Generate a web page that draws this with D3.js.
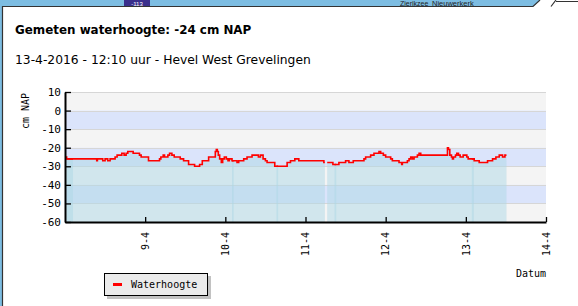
<!DOCTYPE html>
<html>
<head>
<meta charset="utf-8">
<script src="https://cdn.jsdelivr.net/npm/d3@7"></script>
<style>
  body { margin: 0; background: #fff; }
  svg { display: block; }
  .mono { font-family: "DejaVu Sans Mono", monospace; font-size: 10px; }
</style>
</head>
<body>
<div id="chart"></div>
<script>
// meetreeks: uren vanaf 8-4-2016 00:00, waterhoogte in cm NAP (stapjes)
var startDatum = new Date(2016, 3, 8, 0, 0);
var uren = [0, 0.5, 9.5, 9.7, 11.3, 12, 12.8, 13.5, 15, 15.6, 17, 17.7, 18.3, 18.8, 20.4, 22.3, 22.8, 25,
  28.3, 28.7, 29.4, 29.8, 30.8, 31.3, 32, 32.7, 34.5, 35.5, 37, 38.8, 40.3, 41.1, 43,
  45, 45.3, 45.6, 45.9, 46.3, 46.8, 47.2, 47.7, 48.3, 48.8, 49.2, 50, 51.5, 52, 53.5, 54.5, 56,
  57.9, 58.5, 59.3, 60, 60.5, 62.8, 66.5, 67.5, 68.8, 70, 77.5,
  78.5, 80.2, 82, 84, 85, 86.3, 89.5, 90, 91.5, 92.5, 94, 94.5, 95.3, 96, 97.5, 98, 100, 100.8, 101,
  101.7, 102.5, 103, 103.5, 104, 104.5, 105.5, 106, 106.5, 114.5, 114.8, 115.2, 115.7, 116, 116.3,
  116.9, 117.3, 117.8, 118.3, 119.2, 120.3, 120.7, 122.5, 124, 126.5, 128, 129, 130, 131, 131.7];
var waterhoogte = [-25, -26, -27, -26, -27, -26, -27, -26, -25, -24, -23, -24, -23, -22, -23, -24, -25, -27,
  -26, -25, -24, -25, -24, -23, -24, -25, -26, -27, -29, -30, -29, -27, -25,
  -22, -21, -22, -24, -26, -28, -26, -25, -26, -27, -26, -27, -28, -27, -26, -25, -24,
  -25, -24, -26, -27, -28, -30, -28, -27, -26, -27, -28,
  -28, -29, -28, -27, -28, -27, -26, -25, -24, -23, -22, -23, -24, -25, -26, -27, -28, -29, -28,
  -28, -27, -26, -25, -26, -25, -24, -23, -24, -20, -21, -24, -25, -26, -25,
  -24, -23, -24, -25, -24, -25, -26, -27, -28, -27, -26, -25, -24, -25, -24];
var laatsteUur = 132 + 10 / 60; // 13-4 12:10

// aparte blokken van de reeks (overlap geeft de donkere strookjes, gat bij 11-4)
var blokken = [[0, 2.4], [0.5, 50.5], [50, 63.8], [63.3, 77.8], [78.5, 81.2], [80.7, 122.4], [121.8, laatsteUur]];

var dagLabels = ["9-4", "10-4", "11-4", "12-4", "13-4", "14-4"];
var yTicks = [10, 0, -10, -20, -30, -40, -50, -60];

var titel = "Gemeten waterhoogte: -24 cm NAP";
var ondertitel = "13-4-2016 - 12:10 uur - Hevel West Grevelingen";

var width = 578, height = 306;
var plot = { left: 65, right: 546, top: 92, bottom: 222 };

var svg = d3.select('#chart').append('svg')
  .attr('width', width)
  .attr('height', height);

// kaart-rand bovenaan en links
svg.append('rect').attr('width', width).attr('height', height).attr('fill', '#fff');
svg.append('rect').attr('width', width).attr('height', 6.5).attr('fill', '#7dbde2');
svg.append('rect').attr('width', 2.5).attr('height', height).attr('fill', '#7dbde2');
var kaart = svg.append('g');
kaart.append('rect').attr('x', 124).attr('y', 0).attr('width', 26).attr('height', 6).attr('fill', '#3a2f8c');
kaart.append('text').attr('x', 137).attr('y', 5.5).attr('text-anchor', 'middle')
  .attr('fill', '#fff').style('font', '6px "Liberation Sans"').text('-113');
kaart.append('text').attr('x', 400).attr('y', 5.5).attr('fill', '#222')
  .style('font', '7px "Liberation Sans"').text('Zierikzee');
kaart.append('text').attr('x', 432).attr('y', 6).attr('fill', '#222')
  .style('font', '7.5px "Liberation Sans"').text('Nieuwerkerk');
svg.append('path').attr('d', 'M533,7L540,0L578,0L578,7Z').attr('fill', '#fff');
svg.append('path').attr('d', 'M2.5,306V6.5H533L540,0').attr('fill', 'none').attr('stroke', '#333').attr('stroke-width', 1.2);
svg.append('path').attr('d', 'M551,6.5L556,0M556,1.5H578').attr('fill', 'none').attr('stroke', '#333').attr('stroke-width', 1.2);

// titels
svg.append('text').attr('x', 15).attr('y', 34)
  .style('font', 'bold 11.9px "DejaVu Sans"').text(titel);
svg.append('text').attr('x', 15).attr('y', 63.5)
  .style('font', '12.3px "DejaVu Sans"').text(ondertitel);

var x = d3.scaleTime()
  .domain([startDatum, d3.timeDay.offset(startDatum, 6)])
  .range([plot.left, plot.right]);
var y = d3.scaleLinear().domain([-60, 10]).range([plot.bottom, plot.top]);

function tijd(u) { return new Date(startDatum.getTime() + u * 3600e3); }

// achtergrondbanden
var banden = d3.range(10, -60, -10);
svg.append('g').selectAll('rect')
  .data(banden).enter().append('rect')
  .attr('x', plot.left)
  .attr('y', function(d) { return y(d); })
  .attr('width', plot.right - plot.left)
  .attr('height', function(d) { return y(d - 10) - y(d); })
  .attr('fill', function(d, i) { return i % 2 ? '#dbe4fb' : '#f4f4f4'; });

svg.append('g').selectAll('line')
  .data(yTicks).enter().append('line')
  .attr('x1', plot.left).attr('x2', plot.right)
  .attr('y1', function(d) { return Math.round(y(d)) + 0.5; })
  .attr('y2', function(d) { return Math.round(y(d)) + 0.5; })
  .attr('stroke', '#d6d6d6');

// stukje van de reeks tussen u0 en u1
function waardeOp(u) {
  var i = d3.bisectRight(uren, u) - 1;
  return waterhoogte[Math.max(i, 0)];
}
function blokData(u0, u1) {
  var pts = [[u0, waardeOp(u0)]];
  uren.forEach(function(u, i) { if (u > u0 && u < u1) pts.push([u, waterhoogte[i]]); });
  pts.push([u1, waardeOp(u1)]);
  return pts;
}

var area = d3.area()
  .curve(d3.curveStepAfter)
  .x(function(d) { return x(tijd(d[0])); })
  .y0(y(-60))
  .y1(function(d) { return y(d[1]); });
var line = d3.line()
  .curve(d3.curveStepAfter)
  .x(function(d) { return x(tijd(d[0])); })
  .y(function(d) { return y(d[1]); });

var reeks = blokken.map(function(b) { return blokData(b[0], b[1]); });

svg.append('g').selectAll('path')
  .data(reeks).enter().append('path')
  .attr('d', area)
  .attr('fill', '#add8e6')
  .attr('fill-opacity', 0.5);

svg.append('g').selectAll('path')
  .data(reeks).enter().append('path')
  .attr('d', line)
  .attr('fill', 'none')
  .attr('stroke', '#ff0000')
  .attr('stroke-width', 1.6);

// assen
var xAs = svg.append('g').attr('class', 'mono')
  .attr('transform', 'translate(0,' + plot.bottom + ')');
xAs.call(d3.axisBottom(x)
  .ticks(d3.timeHour.every(6))
  .tickSizeInner(-3).tickSizeOuter(0)
  .tickFormat(''));
xAs.call(d3.axisBottom(x)
  .tickValues(dagLabels.map(function(d, i) { return d3.timeDay.offset(startDatum, i + 1); }))
  .tickSizeInner(-5).tickSizeOuter(0)
  .tickFormat(function(d, i) { return dagLabels[i]; }));
xAs.selectAll('text')
  .attr('transform', 'rotate(-90)')
  .attr('x', -10).attr('y', 0).attr('dy', '0.32em')
  .style('text-anchor', 'end')
  .attr('fill', '#000');

var yAs = svg.append('g').attr('class', 'mono')
  .attr('transform', 'translate(' + plot.left + ',0)');
yAs.call(d3.axisLeft(y)
  .tickValues(d3.range(-55, 10, 10))
  .tickSizeInner(-3).tickSizeOuter(0)
  .tickFormat(''));
yAs.call(d3.axisLeft(y)
  .tickValues(yTicks)
  .tickSizeInner(-6).tickSizeOuter(0)
  .tickPadding(4)
  .tickFormat(function(d) { return d; }));
yAs.selectAll('text').attr('fill', '#000').style('font-size', '11px');

svg.selectAll('.domain').attr('stroke', '#000').attr('stroke-width', 2);
svg.selectAll('.tick line').attr('stroke', '#000').attr('stroke-width', 1.3);

svg.append('text').attr('class', 'mono')
  .attr('transform', 'translate(29,111) rotate(-90)')
  .attr('text-anchor', 'middle')
  .text('cm NAP');
svg.append('text').attr('class', 'mono')
  .attr('x', plot.right).attr('y', 277)
  .attr('text-anchor', 'end')
  .text('Datum');

// legenda
var legend = svg.append('g').attr('transform', 'translate(104,273)');
legend.append('rect').attr('x', 3).attr('y', 3).attr('width', 104).attr('height', 23).attr('fill', '#c2c2c2');
legend.append('rect').attr('x', 0.5).attr('y', 0.5).attr('width', 103).attr('height', 22)
  .attr('fill', '#ebebeb').attr('stroke', '#000');
legend.append('line').attr('x1', 9).attr('x2', 18).attr('y1', 11.5).attr('y2', 11.5)
  .attr('stroke', '#ff0000').attr('stroke-width', 3);
legend.append('text').attr('class', 'mono').attr('x', 27).attr('y', 15).text('Waterhoogte');
</script>
</body>
</html>
